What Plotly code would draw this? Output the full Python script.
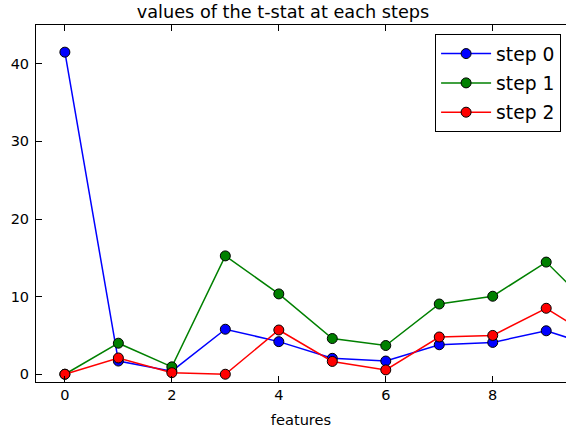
import plotly.graph_objects as go

features = list(range(11))
step0 = [41.5, 1.7, 0.4, 5.8, 4.2, 2.05, 1.7, 3.8, 4.1, 5.6, 3.4]
step1 = [0.0, 4.0, 0.95, 15.25, 10.35, 4.6, 3.7, 9.05, 10.05, 14.45, 7.6]
step2 = [0.0, 2.1, 0.2, 0.0, 5.7, 1.65, 0.56, 4.8, 5.0, 8.5, 4.2]
names = ["step 0", "step 1", "step 2"]
colors = ["#0000ff", "#008000", "#ff0000"]

fig = go.Figure()
for name, vals, c in zip(names, [step0, step1, step2], colors):
    fig.add_trace(go.Scatter(
        x=features, y=vals, name=name, mode="lines+markers",
        line=dict(color=c, width=1.5),
        marker=dict(color=c, size=10, line=dict(color="black", width=1)),
        legendgroup=name,
    ))

fig.update_layout(
    width=566, height=431,
    margin=dict(l=36, r=0, t=25, b=49, autoexpand=False),
    paper_bgcolor="white", plot_bgcolor="white",
    font=dict(family="DejaVu Sans", size=14, color="black"),
    title=dict(text="values of the t-stat at each steps", x=0.5, xref="container",
               xanchor="center", y=0.972, yref="container", yanchor="middle",
               font=dict(size=17.7)),
    showlegend=True,
    legend=dict(x=0.753, xanchor="left", y=0.975, yanchor="top",
                bordercolor="black", borderwidth=1, bgcolor="white",
                font=dict(size=18.7), traceorder="grouped", tracegroupgap=2,
                itemwidth=50),
)
fig.update_xaxes(range=[-0.54, 9.37], tickvals=[0, 2, 4, 6, 8], showgrid=False,
                 zeroline=False, showline=True, linecolor="black", linewidth=1,
                 mirror="ticks", ticks="inside", ticklen=6, tickcolor="black",
                 automargin=False, tickfont=dict(size=14.5),
                 title=dict(text="features", standoff=12, font=dict(size=14.6)))
fig.update_yaxes(range=[-1, 45], tickvals=[0, 10, 20, 30, 40], showgrid=False,
                 zeroline=False, showline=True, linecolor="black", linewidth=1,
                 ticks="inside", ticklen=6, tickcolor="black", automargin=False,
                 tickfont=dict(size=14.5), ticklabelstandoff=3)

fig.write_html("out.html", config={"displayModeBar": False},
               post_script="document.body.style.margin='0';")
